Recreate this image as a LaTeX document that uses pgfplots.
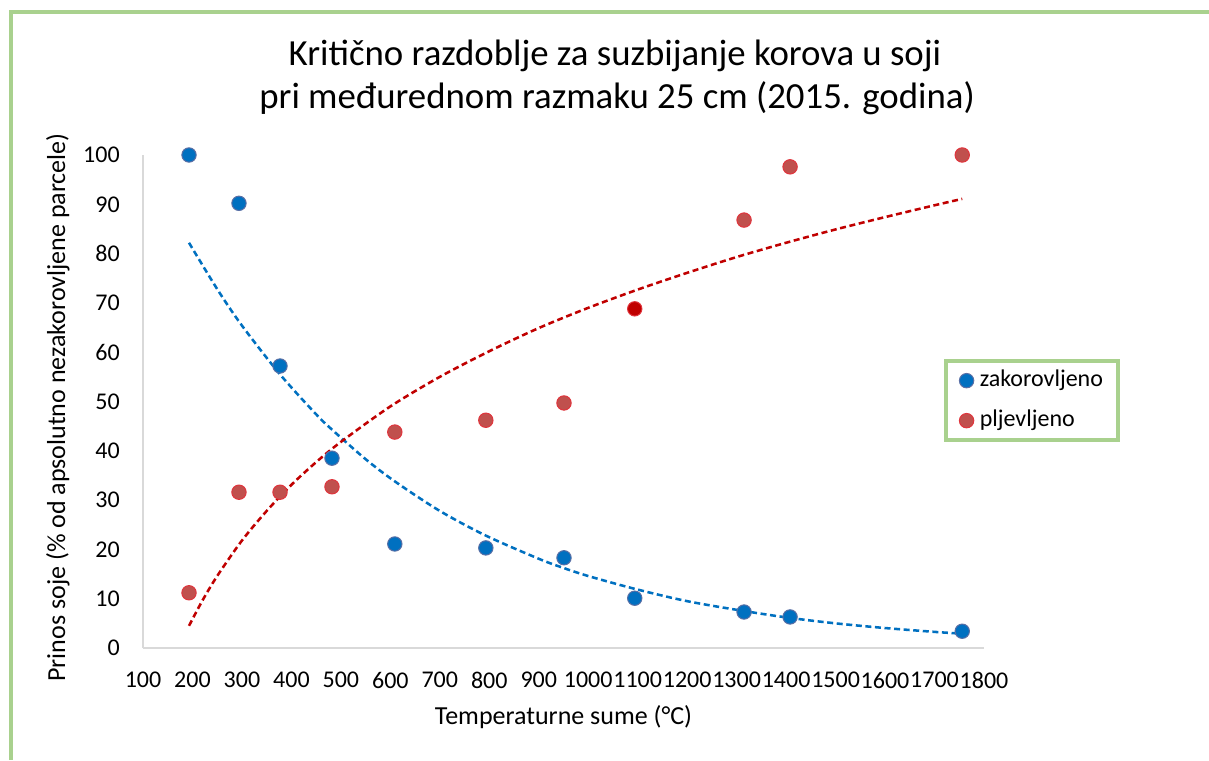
\documentclass[border=0pt]{standalone}
\usepackage{fontspec}
\setmainfont{Carlito}
\usepackage{pgfplots}
\pgfplotsset{compat=1.18}
\definecolor{frameGreen}{HTML}{A9D18E}
\definecolor{bluePt}{HTML}{0070C0}
\definecolor{blueEdge}{HTML}{5A6FA5}
\definecolor{redPt}{HTML}{C0504D}
\definecolor{redEdge}{HTML}{E0353D}
\definecolor{redDark}{HTML}{C00000}
\definecolor{axisGray}{HTML}{D9D9D9}
\begin{document}
\begin{tikzpicture}
\begin{scope}[x=0.75pt,y=0.75pt]
\path[use as bounding box] (0,0) rectangle (1209,760);
\draw[frameGreen, line width=3pt] (11,0) -- (11,748) -- (1209,748);
\node[anchor=base, inner sep=0pt, font=\fontsize{27.6}{33}\selectfont] at (615,694) {Kritično razdoblje za suzbijanje korova u soji};
\node[anchor=base, inner sep=0pt, font=\fontsize{27.6}{33}\selectfont] at (617,651) {pri međurednom razmaku 25 cm (2015. godina)};
\end{scope}
\begin{axis}[
  at={(107.25pt,84pt)}, anchor=south west,
  width=630.75pt, height=369.75pt, scale only axis,
  xmin=100, xmax=1800, ymin=0, ymax=100,
  xtick={100,200,...,1800}, ytick={0,10,...,100},
  axis x line=bottom, axis y line=left,
  axis line style={-, draw=axisGray, line width=1.1pt},
  major tick length=0pt, tick style={draw=none},
  /pgf/number format/assume math mode=true,
  /pgf/number format/1000 sep={},
  ticklabel style={font=\fontsize{18}{20}\selectfont, inner sep=0pt},
  xticklabel style={anchor=north, yshift=-18pt},
  yticklabel style={anchor=east, xshift=-17.25pt},
  xlabel={Temperaturne sume (°C)},
  xlabel style={at={(axis description cs:0.5,-0.156)}, anchor=base, inner sep=0pt, font=\fontsize{19.5}{22}\selectfont},
  ylabel={Prinos soje (\% od apsolutno nezakorovljene parcele)},
  ylabel style={at={(axis description cs:-0.0927,0.488)}, anchor=base, inner sep=0pt, font=\fontsize{19.5}{22}\selectfont},
  clip=false,
  legend style={at={(rel axis cs:0.9525,0.5862)}, anchor=north west, draw=frameGreen, line width=3pt,
    font=\fontsize{18}{20}\selectfont, inner xsep=10pt, inner ysep=5pt, row sep=10.5pt, column sep=3pt,
    nodes={inner sep=1.5pt, text depth=4pt}},
  legend cell align=left,
  legend image code/.code={\draw[#1] plot coordinates {(0pt,0pt)};},
]
% trend lines
\addplot[forget plot, draw=bluePt, line width=1.9pt, dash pattern=on 4.5pt off 2.7pt, smooth] coordinates {
(193,82.2)(250,72.8)(300,65.4)(377,55.5)(450,47.4)(482,44.3)(550,38.3)(609,33.8)(700,27.8)(793,22.8)(900,18.1)(951,16.2)(1000,14.6)(1094,12.0)(1200,9.5)(1315,7.5)(1408,6.1)(1500,5.0)(1600,4.05)(1700,3.27)(1756,2.90)};
\addplot[forget plot, draw=redDark, line width=1.9pt, dash pattern=on 4.5pt off 2.7pt, smooth] coordinates {
(193,4.5)(220,9.6)(250,14.6)(300,21.8)(350,27.8)(400,33.1)(450,37.7)(500,41.8)(600,49.0)(700,55.0)(800,60.2)(900,64.9)(1000,69.0)(1100,72.7)(1200,76.1)(1300,79.3)(1400,82.2)(1500,84.9)(1600,87.4)(1700,89.8)(1756,91.1)};
% points
\addplot[only marks, mark=*, mark size=5.4pt, mark options={fill=bluePt, draw=blueEdge, line width=0.75pt}] coordinates {
(193,100)(294,90.2)(377,57.2)(482,38.5)(609,21.1)(793,20.3)(951,18.3)(1094,10.1)(1315,7.3)(1408,6.3)(1756,3.4)};
\addlegendentry{zakorovljeno}
\addplot[only marks, mark=*, mark size=5.4pt, mark options={fill=redPt, draw=redEdge, line width=0.75pt}] coordinates {
(193,11.2)(294,31.6)(377,31.6)(482,32.7)(609,43.8)(793,46.2)(951,49.7)(1315,86.8)(1408,97.6)(1756,100)};
\addlegendentry{pljevljeno}
\addplot[forget plot, only marks, mark=*, mark size=5.4pt, mark options={fill=redDark, draw=redEdge, line width=0.75pt}] coordinates {(1094,68.8)};
\end{axis}
\end{tikzpicture}
\end{document}
